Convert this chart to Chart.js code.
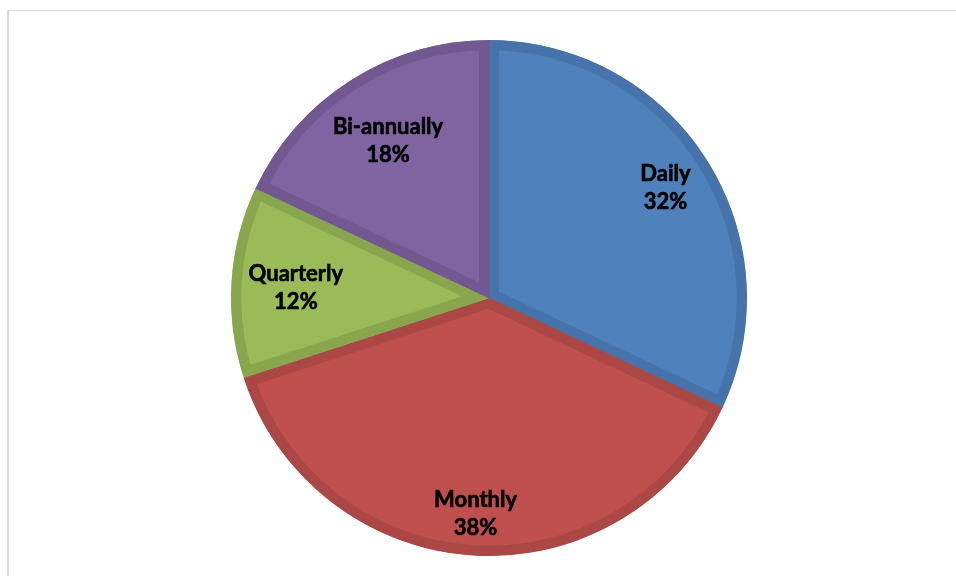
<!DOCTYPE html>
<html>
<head>
<meta charset="utf-8">
<script src="https://cdn.jsdelivr.net/npm/chart.js@4/dist/chart.umd.min.js"></script>
<style>
  html, body { margin: 0; padding: 0; background: #fff; }
  #wrap { position: relative; width: 956px; height: 576px; overflow: hidden; }
  #frame {
    position: absolute; left: 7px; top: 10px; width: 1000px; height: 600px;
    border-left: 2px solid #d9d9d9; border-top: 1px solid #d9d9d9;
  }
  #chart { position: absolute; left: 0; top: 0; }
</style>
</head>
<body>
<div id="wrap">
  <div id="frame"></div>
  <canvas id="chart" width="956" height="576"></canvas>
</div>
<script>
// frequency shares, clockwise from 12 o'clock
const categories = ['Daily', 'Monthly', 'Quarterly', 'Bi-annually'];
const shares = [32, 38, 12, 18];
const fillColors = ['#4f81bd', '#c0504d', '#9bbb59', '#8064a2'];
const edgeColors = ['#4674aa', '#ab4744', '#89a64f', '#715890'];
// how far out (fraction of radius) each label sits
const labelRadius = [0.81, 0.83, 0.75, 0.73];

// draws "Name" / "NN%" inside each slice
const sliceLabels = {
  id: 'sliceLabels',
  afterDatasetsDraw(chart) {
    const ctx = chart.ctx;
    const meta = chart.getDatasetMeta(0);
    ctx.save();
    ctx.fillStyle = '#000';
    ctx.strokeStyle = '#000';
    ctx.lineWidth = 0.6;
    ctx.font = 'bold 22px Lato, "Open Sans", sans-serif';
    ctx.textAlign = 'center';
    ctx.textBaseline = 'middle';
    meta.data.forEach((arc, i) => {
      const mid = (arc.startAngle + arc.endAngle) / 2;
      const r = arc.outerRadius * labelRadius[i];
      const x = arc.x + Math.cos(mid) * r;
      const y = arc.y + Math.sin(mid) * r;
      [[categories[i], y - 12], [shares[i] + '%', y + 16]].forEach(([t, ty]) => {
        ctx.fillText(t, x, ty);
        ctx.strokeText(t, x, ty);
      });
    });
    ctx.restore();
  }
};

new Chart(document.getElementById('chart'), {
  type: 'pie',
  data: {
    labels: categories,
    datasets: [{
      data: shares,
      backgroundColor: fillColors,
      borderColor: edgeColors,
      borderWidth: 10,
      borderAlign: 'inner',
      hoverOffset: 0
    }]
  },
  options: {
    responsive: false,
    animation: false,
    layout: { padding: { left: 231, right: 209, top: 40, bottom: 20 } },
    plugins: {
      legend: { display: false },
      tooltip: { enabled: false }
    }
  },
  plugins: [sliceLabels]
});
</script>
</body>
</html>
